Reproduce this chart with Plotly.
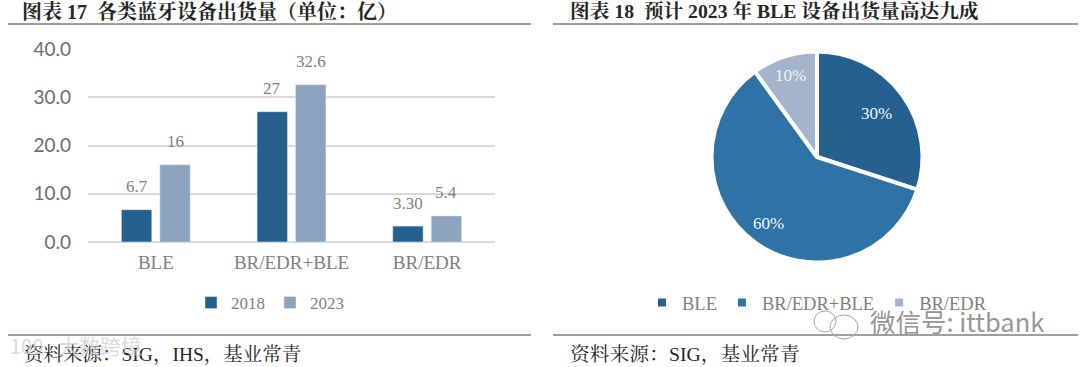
import math
import plotly.graph_objects as go

categories = ["BLE", "BR/EDR+BLE", "BR/EDR"]
values_2018 = [6.7, 27, 3.3]
values_2023 = [16, 32.6, 5.4]
labels_2018 = ["6.7", "27", "3.30"]
labels_2023 = ["16", "32.6", "5.4"]
y_ticks = [0, 10, 20, 30, 40]
y_tick_labels = ["0.0", "10.0", "20.0", "30.0", "40.0"]
pie_labels = ["BLE", "BR/EDR+BLE", "BR/EDR"]
pie_values = [30, 60, 10]

W, H = 1080, 367
SERIF = "Liberation Serif, Noto Serif CJK SC, Noto Sans CJK SC"
GRAY = "#7f7f7f"
C1, C2, C3, C4 = "#25608f", "#8ba3bf", "#2e72a6", "#a3b4cc"
PIE_CX, PIE_CY, PIE_R = 817, 157, 105.5
PIE_LABEL_RADIUS = [0.70, 0.78, 0.81]

def fx(p): return p / W
def fy(p): return 1 - p / H

fig = go.Figure()
fig.add_bar(x=categories, y=values_2018, name="2018", marker_color=C1, legend="legend")
fig.add_bar(x=categories, y=values_2023, name="2023", marker_color=C2, legend="legend")
fig.add_pie(
    labels=pie_labels, values=pie_values, sort=False, direction="clockwise", rotation=0,
    marker=dict(colors=[C1, C3, C4], line=dict(color="white", width=4)),
    textinfo="none",
    domain=dict(x=[fx(PIE_CX - PIE_R), fx(PIE_CX + PIE_R)], y=[fy(PIE_CY + PIE_R), fy(PIE_CY - PIE_R)]),
    legend="legend2", hoverinfo="label+percent",
)

anns = []
for vals, labs, shift in [(values_2018, labels_2018, -19.2), (values_2023, labels_2023, 19.2)]:
    for c, v, t in zip(categories, vals, labs):
        anns.append(dict(x=c, y=v, xref="x", yref="y", text=t, showarrow=False,
                         xshift=shift, yshift=23, xanchor="center", yanchor="middle",
                         font=dict(family=SERIF, size=17, color=GRAY)))

def txt(x, y, s, size, color="#262626", anchor="left", fam=SERIF):
    anns.append(dict(x=fx(x), y=fy(y), xref="paper", yref="paper", text=s, showarrow=False,
                     xanchor=anchor, yanchor="middle", font=dict(family=fam, size=size, color=color)))

total = sum(pie_values)
cum = 0
for v, rf in zip(pie_values, PIE_LABEL_RADIUS):
    a = 2 * math.pi * (cum + v / 2) / total
    cum += v
    txt(PIE_CX + rf * PIE_R * math.sin(a), PIE_CY - rf * PIE_R * math.cos(a),
        f"{round(100 * v / total)}%", 17, "#f4f6f9", anchor="center")

txt(20, 11, "<b>图表 17  各类蓝牙设备出货量（单位：亿）</b>", 20)
txt(568, 11, "<b>图表 18  预计 2023 年 BLE 设备出货量高达九成</b>", 19.7)
txt(22, 354, "资料来源：SIG，IHS，基业常青", 19.5)
txt(568, 354, "资料来源：SIG，基业常青", 19.8)
txt(8, 345, "100", 20, "rgba(205,205,205,0.75)", fam="Noto Sans CJK SC")
txt(56, 345, "大数跨境", 21, "rgba(205,205,205,0.75)", fam="Noto Sans CJK SC")
txt(868, 320, "微信号: ittbank", 25.5, "rgba(135,135,135,0.9)", fam="Noto Sans CJK SC")

rule = lambda x0, x1, y: dict(type="line", xref="paper", yref="paper", x0=fx(x0), x1=fx(x1),
                              y0=fy(y), y1=fy(y), line=dict(color="#404040", width=1.2))
bubble = lambda x0, x1, y0, y1: dict(type="circle", xref="paper", yref="paper", x0=fx(x0), x1=fx(x1),
                                     y0=fy(y1), y1=fy(y0), line=dict(color="#aaaaaa", width=1))
shapes = [rule(8, 531, 24), rule(8, 531, 335), rule(553, 1078, 24), rule(553, 1078, 335),
          bubble(814, 836, 311, 332), bubble(830, 858, 315, 339)]

fig.update_layout(
    width=W, height=H, autosize=False, margin=dict(l=0, r=0, t=0, b=0, autoexpand=False),
    paper_bgcolor="white", plot_bgcolor="white",
    barmode="group", bargap=0.433, bargroupgap=0.21,
    annotations=anns, shapes=shapes,
    xaxis=dict(domain=[fx(88), fx(495)], anchor="y", showline=False, ticks="", fixedrange=True,
               tickfont=dict(family=SERIF, size=19, color=GRAY), ticklabelstandoff=7),
    yaxis=dict(domain=[fy(242), fy(49)], anchor="x", range=[0, 40], tickvals=y_ticks,
               ticktext=y_tick_labels, showgrid=True, gridcolor="#d9d9d9", gridwidth=2,
               zeroline=True, zerolinecolor="#d9d9d9", zerolinewidth=2, showline=False,
               tickfont=dict(family="Lato", size=19, color="#6e6e6e"), ticklabelstandoff=16),
    legend=dict(orientation="h", x=fx(270), y=fy(303), xanchor="center", yanchor="middle",
                font=dict(family=SERIF, size=17, color=GRAY), bgcolor="rgba(0,0,0,0)"),
    legend2=dict(orientation="h", x=fx(817), y=fy(303), xanchor="center", yanchor="middle",
                 font=dict(family=SERIF, size=18.5, color=GRAY), bgcolor="rgba(0,0,0,0)"),
)
fig.write_html("out.html", config={"displayModeBar": False},
               post_script="document.body.style.margin='0';")
